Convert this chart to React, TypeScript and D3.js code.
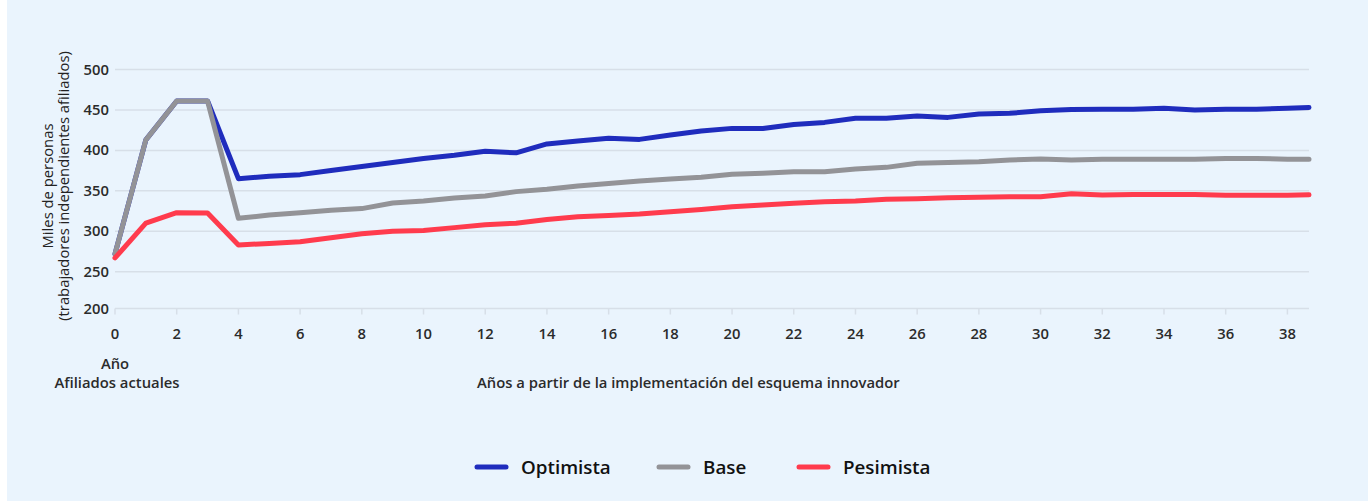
import React from "react";
import * as d3 from "d3";

const years = [0,1,2,3,4,5,6,7,8,9,10,11,12,13,14,15,16,17,18,19,20,21,22,23,24,25,26,27,28,29,30,31,32,33,34,35,36,37,38,38.7];
const optimista = [272,413,461,461,365,368,370,375,380,385,390,394,399,397,408,411.5,415,413.6,419,424,427.2,427,432,434.6,439.6,439.6,442.5,440.8,445,445.8,449,450.5,451,451,452,450,451,451,452,453];
const base = [272,413,461,461,316,320,323,326,328,335,337.5,341,343.5,349,352,356,359,362,364.6,366.7,370.4,371.6,373.6,373.6,377,379,384,385,386,388,389.3,388,389,389,389,389,390,390,389,389];
const pesimista = [267,310,323,322.5,283,285,287,292,297,300,301,304.5,308,310,314.5,318,319.5,321.3,324.2,327,330.3,332.4,334.5,336.5,337.4,339.5,340.2,341.5,342,342.7,342.7,346.5,344.8,345.6,345.6,345.6,344.4,344.4,344.4,345];
const seriesNames = ["Optimista", "Base", "Pesimista"];
const seriesColors = ["#1f2cbd", "#939397", "#ff3b4d"];
const yTicks = [200, 250, 300, 350, 400, 450, 500];
const xTicks = [0,2,4,6,8,10,12,14,16,18,20,22,24,26,28,30,32,34,36,38];

const W = 1361, H = 501;
const OX = 7;
const FONT = "'Open Sans', 'Noto Sans', sans-serif";

export default function App() {
  const x = d3.scaleLinear().domain([0, 38.7]).range([115 - OX, 1309 - OX]);
  const y = d3.scaleLinear().domain([204.5, 500]).range([308.5, 69.5]).clamp(true);
  const allSeries = [optimista, base, pesimista];
  const line = d3.line<number>().x((_, i) => x(years[i])).y((d) => y(d));
  const left = x(0);
  const right = x(38.7);
  const legendX = [475, 657, 797];
  const fs = 14.8;
  return (
    <div style={{ position: "fixed", left: 0, top: 0, width: 1368, height: 501, background: "#fff" }}>
      <svg width={W} height={H} style={{ position: "absolute", left: OX, top: 0, display: "block" }} fontFamily={FONT}>
        <rect x={0} y={0} width={W} height={H} fill="#eaf4fd" />
        {yTicks.slice(1).map((t) => (
          <line key={t} x1={left} x2={right} y1={y(t)} y2={y(t)} stroke="#d7dfe8" strokeWidth={1.5} />
        ))}
        <line x1={left} x2={right} y1={y(204.5)} y2={y(204.5)} stroke="#d7dfe8" strokeWidth={1.5} />
        {xTicks.map((t) => (
          <line key={t} x1={x(t)} x2={x(t)} y1={y(204.5)} y2={y(204.5) + 6} stroke="#d7dfe8" strokeWidth={1.5} />
        ))}
        {yTicks.map((t) => (
          <text key={t} x={109 - OX} y={y(t) + 5} textAnchor="end" fontSize={fs} fontWeight={600} fill="#2b2b2b">{t}</text>
        ))}
        {xTicks.map((t) => (
          <text key={t} x={x(t)} y={338.5} textAnchor="middle" fontSize={fs} fontWeight={600} fill="#2b2b2b">{t}</text>
        ))}
        {allSeries.map((s, k) => (
          <path key={k} d={line(s) || ""} fill="none" stroke={seriesColors[k]} strokeWidth={5} strokeLinejoin="round" strokeLinecap="round" />
        ))}
        <g transform={`translate(${53 - OX},186) rotate(-90)`}>
          <text x={0} y={0} textAnchor="middle" fontSize={fs} fontWeight={500} fill="#222">Miles de personas</text>
          <text x={0} y={16} textAnchor="middle" fontSize={fs} fontWeight={500} fill="#222">(trabajadores independientes afiliados)</text>
        </g>
        <text x={115 - OX} y={368.5} textAnchor="middle" fontSize={fs} fontWeight={600} fill="#2b2b2b">Año</text>
        <text x={117 - OX} y={387.5} textAnchor="middle" fontSize={fs} fontWeight={600} fill="#2b2b2b">Afiliados actuales</text>
        <text x={477 - OX} y={387.5} textAnchor="start" fontSize={fs} fontWeight={600} fill="#2b2b2b">Años a partir de la implementación del esquema innovador</text>
        {seriesNames.map((n, k) => (
          <g key={n}>
            <line x1={legendX[k] - OX + 2} x2={legendX[k] - OX + 31} y1={467} y2={467} stroke={seriesColors[k]} strokeWidth={5} strokeLinecap="round" />
            <text x={legendX[k] - OX + 46} y={473.5} fontSize={18.8} fontWeight={600} fill="#111">{n}</text>
          </g>
        ))}
      </svg>
    </div>
  );
}
